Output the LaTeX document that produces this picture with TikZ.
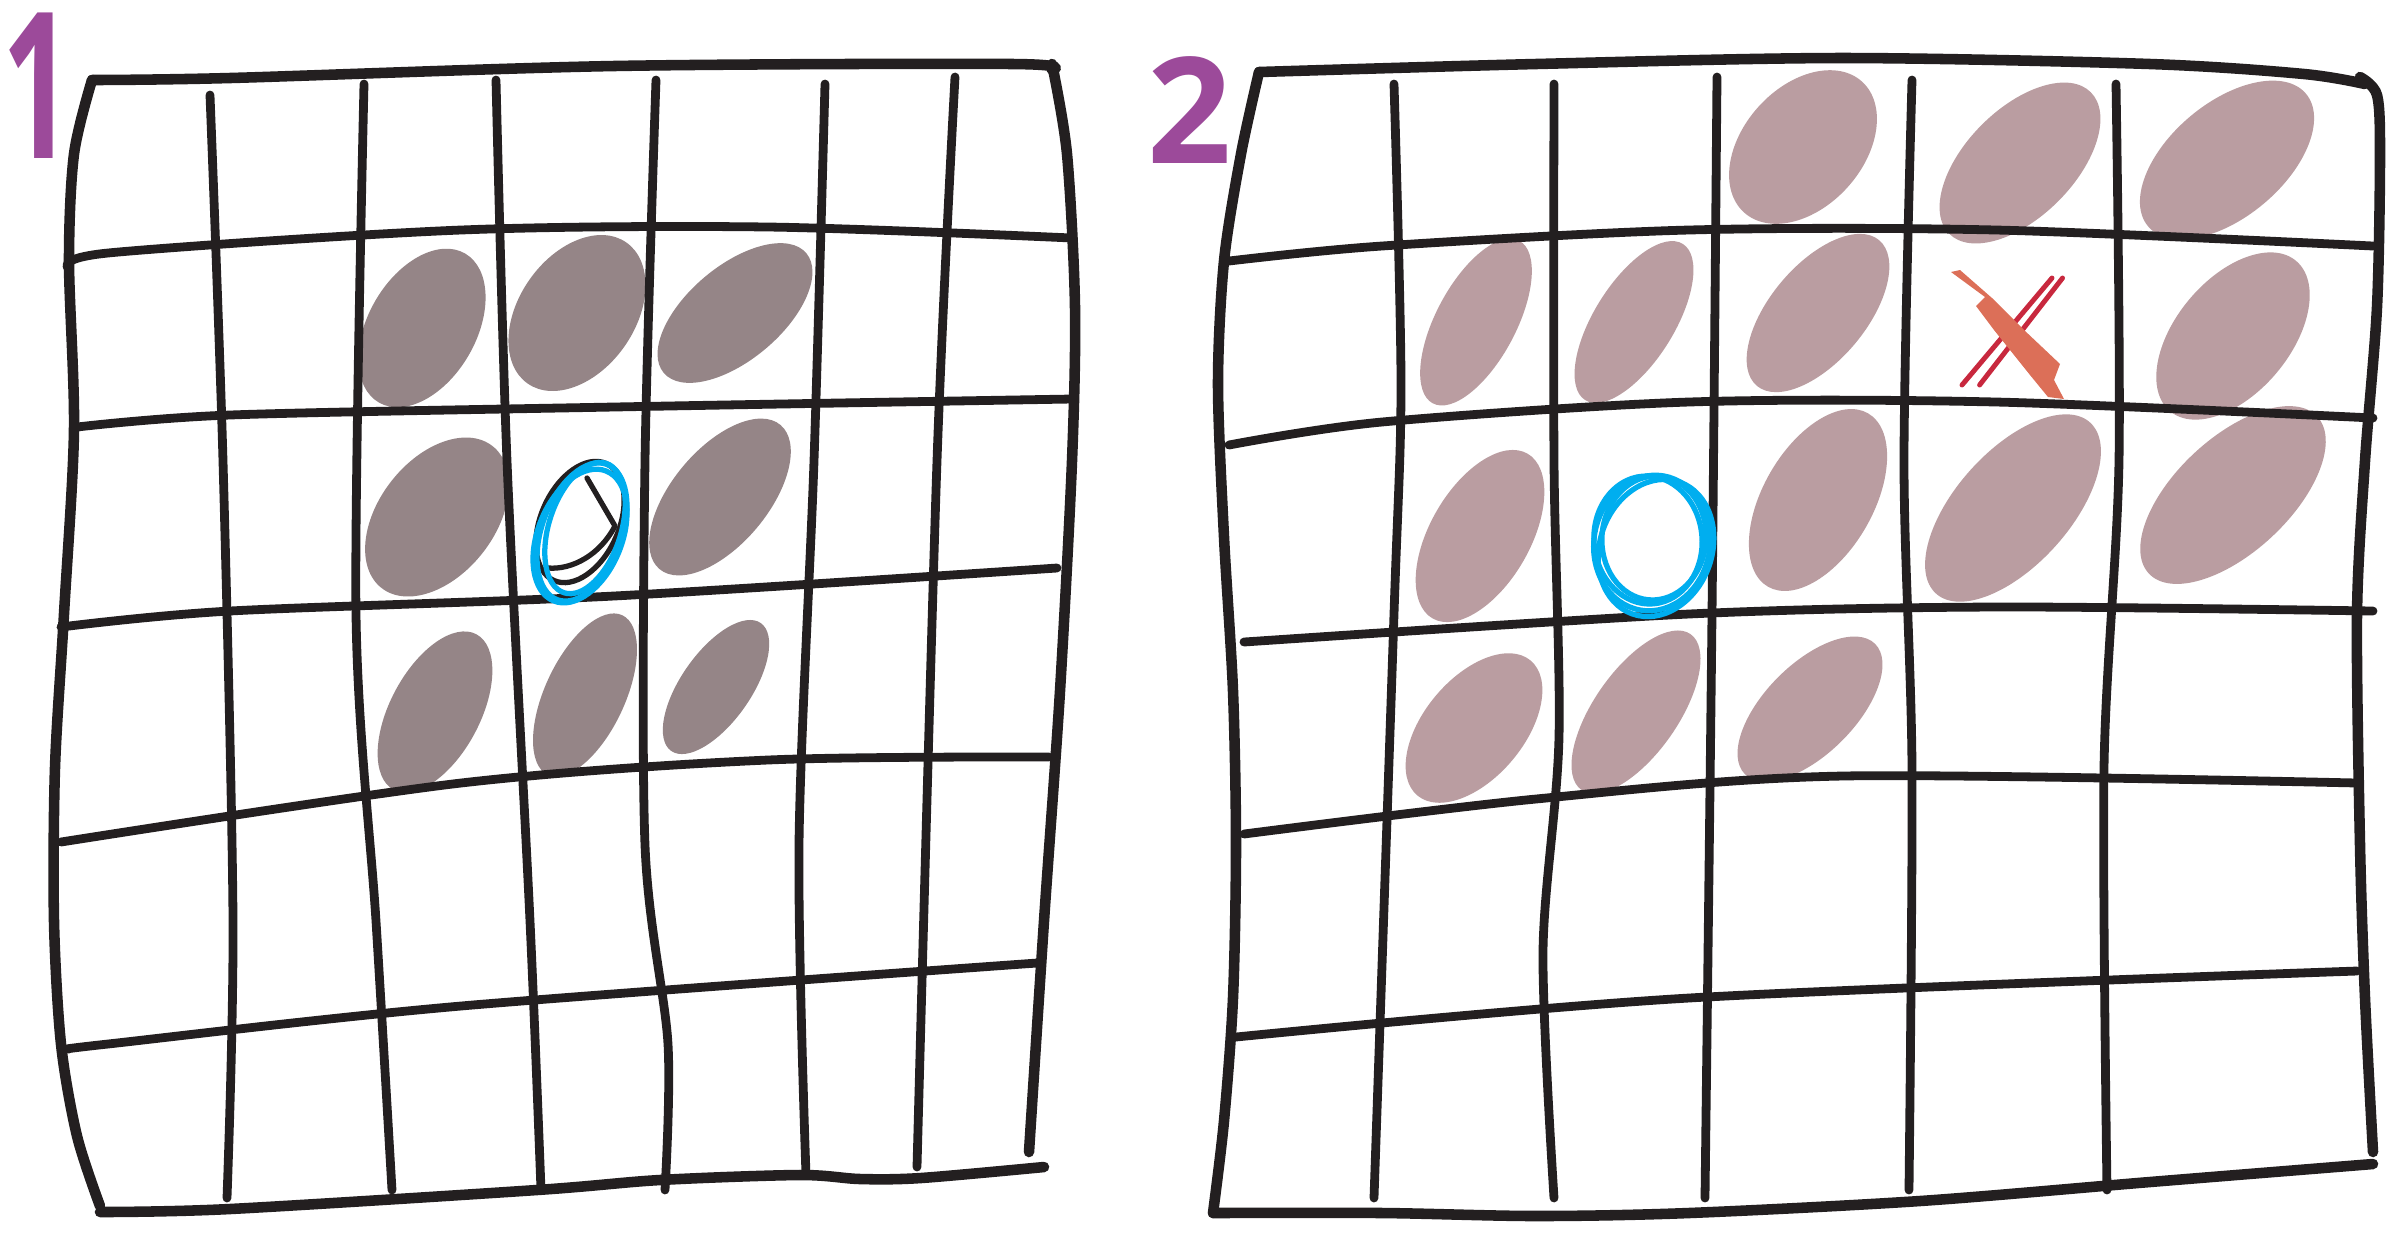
\documentclass[tikz,border=0pt]{standalone}
\usepackage{fontspec}
\setmainfont{Liberation Sans}
\newfontfamily\numfont{Open Sans}
\usetikzlibrary{shapes.geometric}
\definecolor{ink}{HTML}{231F20}
\definecolor{blobLc}{HTML}{958587}
\definecolor{blobRc}{HTML}{BA9DA1}
\definecolor{ringblue}{HTML}{00AEEF}
\definecolor{numpurple}{HTML}{9C4A9A}
\definecolor{xred}{HTML}{C8283E}
\definecolor{xorange}{HTML}{DC6F58}
\begin{document}
\begin{tikzpicture}[x=0.01cm,y=-0.01cm, line cap=round, line join=round,
  gridline/.style={draw=ink, line width=2.5pt},
  frameline/.style={draw=ink, line width=3pt},
  blobL/.style n args={3}{shape=ellipse, draw=none, fill=blobLc, inner sep=0pt, rotate=#1, minimum width={#2*0.02cm}, minimum height={#3*0.02cm}},
  blobR/.style n args={3}{shape=ellipse, draw=none, fill=blobRc, inner sep=0pt, rotate=#1, minimum width={#2*0.02cm}, minimum height={#3*0.02cm}},
  ring/.style n args={3}{shape=ellipse, draw=ringblue, line width=1.5pt, inner sep=0pt, rotate=#1, minimum width={#2*0.02cm}, minimum height={#3*0.02cm}},
  inkring/.style n args={3}{shape=ellipse, draw=ink, line width=1.5pt, inner sep=0pt, rotate=#1, minimum width={#2*0.02cm}, minimum height={#3*0.02cm}},
  numlabel/.style={text=numpurple, inner sep=0pt}]
\useasboundingbox (0,0) rectangle (2408,1241);
\fill[white] (0,0) rectangle (2408,1241);

% ---------- labels ----------
\node[numlabel, font=\numfont\bfseries\fontsize{58}{58}\selectfont, xscale=0.6, anchor=west] (n1) at (2,86) {1};
\node[numlabel, font=\numfont\bfseries\fontsize{42}{42}\selectfont] (n2) at (1190,110) {2};

% ---------- left grid blobs ----------
\node[blobL={60}{86}{54}] (b1) at (422,328) {};
\node[blobL={55}{86}{58}] (b2) at (577,313) {};
\node[blobL={40}{93}{47}] (b3) at (735,313) {};
\node[blobL={52}{90}{58}] (b4) at (437,517) {};
\node[blobL={50}{94}{48}] (b5) at (720,497) {};
\node[blobL={62}{88}{45}] (b6) at (435,712) {};
\node[blobL={65}{88}{40}] (b7) at (585,695) {};
\node[blobL={55}{78}{35}] (b8) at (716,687) {};

% ---------- right grid blobs ----------
\node[blobR={48}{88}{60}] (r1) at (1803,147) {};
\node[blobR={45}{100}{54}] (r2) at (2020,163) {};
\node[blobR={40}{103}{57}] (r3) at (2227,160) {};
\node[blobR={62}{92}{40}] (r4) at (1476,322) {};
\node[blobR={58}{92}{40}] (r5) at (1634,322) {};
\node[blobR={50}{95}{48}] (r6) at (1818,313) {};
\node[blobR={50}{98}{57}] (r7) at (2233,336) {};
\node[blobR={60}{95}{50}] (r8) at (1480,536) {};
\node[blobR={60}{100}{55}] (r9) at (1818,500) {};
\node[blobR={48}{115}{57}] (r10) at (2013,508) {};
\node[blobR={43}{115}{57}] (r11) at (2233,495) {};
\node[blobR={50}{88}{50}] (r12) at (1474,728) {};
\node[blobR={55}{95}{42}] (r13) at (1636,712) {};
\node[blobR={45}{92}{45}] (r14) at (1810,709) {};

% ---------- left grid ----------
\draw[frameline] plot[smooth] coordinates {(92,80) (230,78) (614,66) (1013,64) (1052,70)};
\draw[frameline] plot[smooth] coordinates {(92,80) (74,154) (69,261) (74,430) (64,614) (55,768) (54,921) (61,1044) (77,1136) (100,1206)};
\draw[frameline] plot[smooth] coordinates {(1052,64) (1067,154) (1075,307) (1072,461) (1060,691) (1044,921) (1029,1152)};
\draw[frameline] plot[smooth] coordinates {(100,1212) (230,1209) (537,1190) (660,1180) (800,1175) (860,1179) (921,1178) (1044,1167)};
\draw[gridline] plot[smooth] coordinates {(69,269) (108,253) (461,230) (768,227) (1072,238)};
\draw[gridline] plot[smooth] coordinates {(77,427) (230,415) (614,407) (1072,399)};
\draw[gridline] plot[smooth] coordinates {(61,627) (230,611) (614,596) (1057,568)};
\draw[gridline] plot[smooth] coordinates {(61,842) (461,783) (768,760) (1049,757)};
\draw[gridline] plot[smooth] coordinates {(69,1049) (108,1044) (461,1006) (1037,963)};
\draw[gridline] plot[smooth] coordinates {(210,95) (223,461) (233,921) (227,1198)};
\draw[gridline] plot[smooth] coordinates {(364,84) (356,614) (376,921) (392,1190)};
\draw[gridline] plot[smooth] coordinates {(496,80) (507,461) (530,921) (541,1190)};
\draw[gridline] plot[smooth] coordinates {(656,80) (645,461) (645,845) (668,1044) (665,1190)};
\draw[gridline] plot[smooth] coordinates {(825,84) (814,461) (799,845) (806,1175)};
\draw[gridline] plot[smooth] coordinates {(955,77) (937,461) (917,1167)};

% ---------- right grid ----------
\draw[frameline] plot[smooth] coordinates {(1259,72) (1536,64) (1843,58) (2150,64) (2304,74) (2365,84)};
\draw[frameline] plot[smooth] coordinates {(1259,72) (1241,154) (1224,261) (1218,384) (1224,537) (1233,691) (1236,845) (1233,998) (1224,1121) (1213,1213)};
\draw[frameline] plot[smooth] coordinates {(2360,77) (2377,95) (2380,154) (2377,307) (2365,461) (2357,614) (2360,845) (2365,998) (2373,1152)};
\draw[frameline] plot[smooth] coordinates {(1213,1213) (1382,1213) (1536,1216) (1689,1213) (1920,1201) (2150,1182) (2373,1164)};
\draw[gridline] plot[smooth] coordinates {(1229,261) (1382,246) (1689,230) (1996,230) (2373,246)};
\draw[gridline] plot[smooth] coordinates {(1229,445) (1382,422) (1689,402) (1996,402) (2373,418)};
\draw[gridline] plot[smooth] coordinates {(1244,642) (1689,614) (1996,607) (2373,611)};
\draw[gridline] plot[smooth] coordinates {(1244,834) (1536,799) (1843,776) (2357,783)};
\draw[gridline] plot[smooth] coordinates {(1236,1037) (1689,998) (2357,971)};
\draw[gridline] plot[smooth] coordinates {(1394,84) (1401,384) (1394,614) (1374,1198)};
\draw[gridline] plot[smooth] coordinates {(1554,84) (1554,461) (1559,737) (1543,952) (1554,1198)};
\draw[gridline] plot[smooth] coordinates {(1717,77) (1712,614) (1705,1198)};
\draw[gridline] plot[smooth] coordinates {(1912,80) (1904,461) (1912,768) (1909,1190)};
\draw[gridline] plot[smooth] coordinates {(2116,84) (2119,461) (2104,768) (2107,1190)};

% ---------- left O (black + blue) ----------
\node[inkring={66}{64}{39}] (o1k) at (580,522) {};
\draw[ink, line width=1.5pt] (587,478) -- (615,526) .. controls (600,555) and (572,570) .. (548,568);
\node[ring={70}{72}{40}] (o1a) at (582,532) {};
\node[ring={72}{68}{36}] (o1b) at (585,528) {};
\node[ring={68}{70}{42}] (o1c) at (580,536) {};

% ---------- right O (blue) ----------
\node[ring={80}{68}{58}] (o2a) at (1652,543) {};
\node[ring={95}{64}{54}] (o2b) at (1648,540) {};
\node[ring={70}{70}{56}] (o2c) at (1656,548) {};
\node[ring={85}{62}{52}] (o2d) at (1654,538) {};

% ---------- right X ----------
\coordinate (xr1) at (1962,385);
\coordinate (xr2) at (2052,278);
\draw[xred, line width=1.4pt] (xr1) -- (xr2);
\draw[xred, line width=1.4pt] ([xshift=5]xr1) -- ([xshift=3]xr2);
\fill[xorange] (1951,272) -- (1985,297) -- (1976,306) -- (1994,330) -- (2030,375) -- (2048,397) -- (2064,399) -- (2054,380) -- (2060,364) -- (2024,330) -- (1992,298) -- (1960,270) -- cycle;
\end{tikzpicture}
\end{document}
